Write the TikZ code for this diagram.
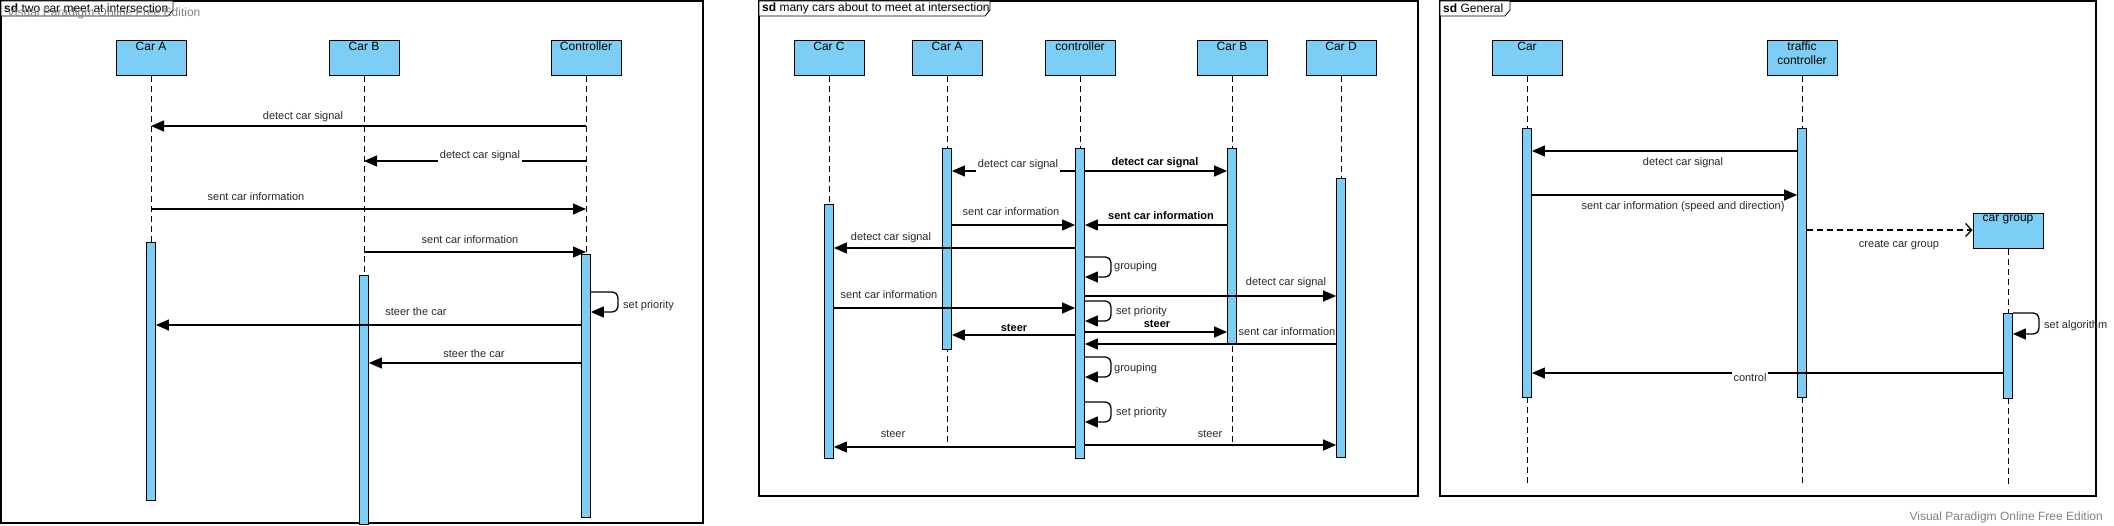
\documentclass[tikz,border=0pt]{standalone}
\usepackage{fontspec}
\setmainfont{Liberation Sans}
\usetikzlibrary{arrows.meta}
\definecolor{vpblue}{RGB}{125,206,245}
\definecolor{lbltext}{RGB}{40,40,40}
\definecolor{wmgrey}{RGB}{130,130,130}
\newcommand{\vpLbl}{\fontsize{11pt}{13pt}\selectfont}
\newcommand{\vpHead}{\fontsize{12pt}{14pt}\selectfont}
\tikzset{
  frame/.style={draw=black, line width=1.5pt},
  tabbox/.style={draw=black, line width=0.8pt, fill=white},
  tabtxt/.style={font=\vpHead, anchor=west, inner sep=0pt},
  wm/.style={font=\vpHead, text=wmgrey, inner sep=0pt},
  head/.style={draw=black, fill=vpblue, line width=1pt, minimum width=70pt, minimum height=35pt,
    anchor=north, inner sep=0pt,
    label={[font=\vpHead, anchor=north, inner sep=1pt, align=center, yshift=-1pt]north:#1}},
  act/.style={draw=black, fill=vpblue, line width=0.8pt, minimum width=9pt, inner sep=0pt, anchor=north},
  life/.style={line width=0.8pt, dash pattern=on 6pt off 4pt},
  msg/.style={line width=1.3pt, -{Triangle[length=13pt,width=11pt]}},
  dmsg/.style={line width=1.3pt, dash pattern=on 6pt off 4pt, -{Straight Barb[length=6pt,width=13pt]}},
  loopmsg/.style={msg, rounded corners=6pt},
  lbl/.style={font=\vpLbl, text=lbltext, inner sep=1pt},
  blbl/.style={font=\vpLbl\bfseries, text=black, inner sep=1pt},
}
\begin{document}
\begin{tikzpicture}[x=1pt, y=-1pt]
\useasboundingbox (0,0) rectangle (2114,526);

% ================= Panel 1 =================
\draw[frame] (1,1) rectangle (703,523);
\draw[tabbox] (1,1) -- (173,1) -- (173,10) -- (168,16) -- (1,16) -- cycle;
\node[tabtxt] (t1) at (4,8) {\textbf{sd} two car meet at intersection};
\node[wm, anchor=west] (wm1) at (7,13) {Visual Paradigm Online Free Edition};

\node[head={Car A}] (p1a) at (151,40) {};
\node[head={Car B}] (p1b) at (364,40) {};
\node[head={Controller}] (p1c) at (586,40) {};

\draw[life] (p1a.south) -- (151,242);
\draw[life] (p1b.south) -- (364,275);
\draw[life] (p1c.south) -- (586,254);

\node[act, minimum height=258pt] (p1aa) at (151,242) {};
\node[act, minimum height=249pt] (p1ba) at (364,275) {};
\node[act, minimum height=263pt] (p1ca) at (586,254) {};

\draw[msg] (p1c.south |- 0,126) -- (p1a.south |- 0,126);
\node[lbl] (p1l1) at (303,117) {detect car signal};
\draw[msg] (p1c.south |- 0,161) -- (p1b.south |- 0,161);
\node[lbl, fill=white, inner sep=2pt] (p1l2) at (480,156) {detect car signal};
\draw[msg] (p1a.south |- 0,209) -- (p1c.south |- 0,209);
\node[lbl] (p1l3) at (256,197) {sent car information};
\draw[msg] (p1b.south |- 0,252) -- (p1c.south |- 0,252);
\node[lbl] (p1l4) at (470,240) {sent car information};
\draw[loopmsg] (p1ca.east |- 0,292) -- ++(27,0) -- ++(0,20) -- (p1ca.east |- 0,312);
\node[lbl, anchor=west] (p1l5) at (622,306) {set priority};
\draw[msg] (p1ca.west |- 0,325) -- (p1aa.east |- 0,325);
\node[lbl] (p1l6) at (416,312) {steer the car};
\draw[msg] (p1ca.west |- 0,363) -- (p1ba.east |- 0,363);
\node[lbl] (p1l7) at (474,354) {steer the car};

% ================= Panel 2 =================
\draw[frame] (759,1) rectangle (1418,496);
\draw[tabbox] (759,1) -- (990,1) -- (990,10) -- (985,16) -- (759,16) -- cycle;
\node[tabtxt] (t2) at (762,8) {\textbf{sd} many cars about to meet at intersection};

\node[head={Car C}] (p2c) at (829,40) {};
\node[head={Car A}] (p2a) at (947,40) {};
\node[head={controller}] (p2k) at (1080,40) {};
\node[head={Car B}] (p2b) at (1232,40) {};
\node[head={Car D}] (p2d) at (1341,40) {};

\draw[life] (p2c.south) -- (829,204);
\draw[life] (p2a.south) -- (947,446);
\draw[life] (p2k.south) -- (1080,148);
\draw[life] (p2b.south) -- (1232,446);
\draw[life] (p2d.south) -- (1341,178);

\node[act, minimum height=254pt] (p2ca) at (829,204) {};
\node[act, minimum height=201pt] (p2aa) at (947,148) {};
\node[act, minimum height=310pt] (p2ka) at (1080,148) {};
\node[act, minimum height=196pt] (p2ba) at (1232,148) {};
\node[act, minimum height=279pt] (p2da) at (1341,178) {};

\draw[msg] (p2ka.west |- 0,171) -- (p2aa.east |- 0,171);
\node[lbl, fill=white, inner sep=2pt] (p2l1) at (1018,165) {detect car signal};
\draw[msg] (p2ka.east |- 0,171) -- (p2ba.west |- 0,171);
\node[blbl] (p2l2) at (1155,163) {detect car signal};
\draw[msg] (p2aa.east |- 0,225) -- (p2ka.west |- 0,225);
\node[lbl] (p2l3) at (1011,212) {sent car information};
\draw[msg] (p2ba.west |- 0,225) -- (p2ka.east |- 0,225);
\node[blbl] (p2l4) at (1161,216) {sent car information};
\draw[msg] (p2ka.west |- 0,248) -- (p2ca.east |- 0,248);
\node[lbl] (p2l5) at (891,238) {detect car signal};
\draw[loopmsg] (p2ka.east |- 0,257) -- ++(26,0) -- ++(0,20) -- (p2ka.east |- 0,277);
\node[lbl, anchor=west] (p2l6) at (1113,267) {grouping};
\draw[msg] (p2ka.east |- 0,296) -- (p2da.west |- 0,296);
\node[lbl] (p2l7) at (1286,283) {detect car signal};
\draw[msg] (p2ca.east |- 0,308) -- (p2ka.west |- 0,308);
\node[lbl] (p2l8) at (889,295) {sent car information};
\draw[loopmsg] (p2ka.east |- 0,301) -- ++(26,0) -- ++(0,20) -- (p2ka.east |- 0,321);
\node[lbl, anchor=west] (p2l9) at (1115,312) {set priority};
\draw[msg] (p2ka.west |- 0,335) -- (p2aa.east |- 0,335);
\node[blbl] (p2l10) at (1014,328) {steer};
\draw[msg] (p2ka.east |- 0,332) -- (p2ba.west |- 0,332);
\node[blbl] (p2l11) at (1157,324) {steer};
\draw[msg] (p2da.west |- 0,344) -- (p2ka.east |- 0,344);
\node[lbl] (p2l12) at (1287,332) {sent car information};
\draw[loopmsg] (p2ka.east |- 0,357) -- ++(26,0) -- ++(0,20) -- (p2ka.east |- 0,377);
\node[lbl, anchor=west] (p2l13) at (1113,369) {grouping};
\draw[loopmsg] (p2ka.east |- 0,402) -- ++(26,0) -- ++(0,20) -- (p2ka.east |- 0,422);
\node[lbl, anchor=west] (p2l14) at (1115,413) {set priority};
\draw[msg] (p2ka.west |- 0,447) -- (p2ca.east |- 0,447);
\node[lbl] (p2l15) at (893,434) {steer};
\draw[msg] (p2ka.east |- 0,445) -- (p2da.west |- 0,445);
\node[lbl] (p2l16) at (1210,434) {steer};

% ================= Panel 3 =================
\draw[frame] (1440,1) rectangle (2096,496);
\draw[tabbox] (1440,1) -- (1510,1) -- (1510,10) -- (1505,16) -- (1440,16) -- cycle;
\node[tabtxt] (t3) at (1443,8) {\textbf{sd} General};

\node[head={Car}] (p3c) at (1527,40) {};
\node[head={traffic\\controller}] (p3t) at (1802,40) {};
\node[head={car group}] (p3g) at (2008,213) {};

\draw[life] (p3c.south) -- (1527,128);
\draw[life] (p3t.south) -- (1802,128);
\draw[life] (p3g.south) -- (2008,313);
\draw[life] (1527,397) -- (1527,485);
\draw[life] (1802,397) -- (1802,485);
\draw[life] (2008,398) -- (2008,485);

\node[act, minimum height=269pt] (p3ca) at (1527,128) {};
\node[act, minimum height=269pt] (p3ta) at (1802,128) {};
\node[act, minimum height=85pt] (p3ga) at (2008,313) {};

\draw[msg] (p3ta.west |- 0,151) -- (p3ca.east |- 0,151);
\node[lbl] (p3l1) at (1683,163) {detect car signal};
\draw[msg] (p3ca.east |- 0,195) -- (p3ta.west |- 0,195);
\node[lbl] (p3l2) at (1683,207) {sent car information (speed and direction)};
\draw[dmsg] (p3ta.east |- 0,230) -- (p3g.west |- 0,230);
\node[lbl] (p3l3) at (1899,245) {create car group};
\draw[loopmsg] (p3ga.east |- 0,313) -- ++(26,0) -- ++(0,21) -- (p3ga.east |- 0,334);
\node[lbl, anchor=west] (p3l4) at (2043,326) {set algorithm};
\draw[msg] (p3ga.west |- 0,373) -- (p3ca.east |- 0,373);
\node[lbl, fill=white, inner sep=1.5pt] (p3l5) at (1750,378) {control};

\node[wm, anchor=east] (wm2) at (2103,517) {Visual Paradigm Online Free Edition};
\end{tikzpicture}
\end{document}
